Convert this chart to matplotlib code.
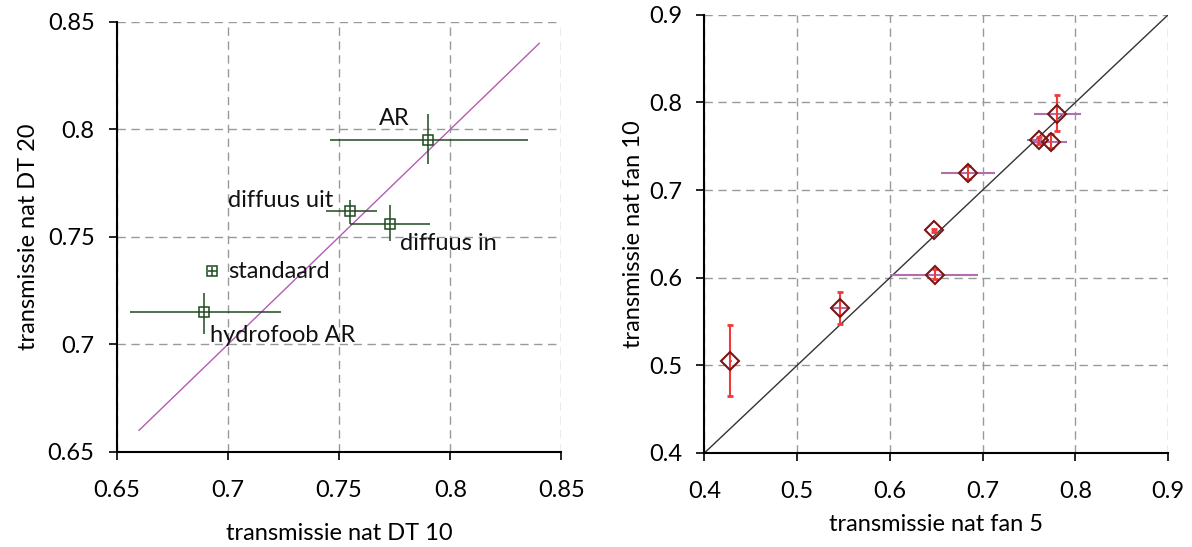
import matplotlib.pyplot as plt

plt.rcParams['font.family'] = ['Lato', 'DejaVu Sans']

# left panel: DT 10 vs DT 20
names = ['AR', 'diffuus uit', 'diffuus in', 'standaard', 'hydrofoob AR']
dt10 = [0.790, 0.755, 0.773, 0.693, 0.689]
dt20 = [0.795, 0.762, 0.756, 0.734, 0.715]
dt10_lo = [0.746, 0.744, 0.755, 0.691, 0.656]
dt10_hi = [0.835, 0.767, 0.791, 0.695, 0.724]
dt20_lo = [0.784, 0.756, 0.748, 0.732, 0.705]
dt20_hi = [0.807, 0.767, 0.765, 0.736, 0.724]
label_x = [0.768, 0.700, 0.7776, 0.700, 0.6917]
label_y = [0.805, 0.767, 0.747, 0.734, 0.704]
diag_left = [0.66, 0.84]

# right panel: fan 5 vs fan 10
fan5 = [0.428, 0.546, 0.648, 0.649, 0.684, 0.761, 0.774, 0.780]
fan10 = [0.505, 0.565, 0.654, 0.603, 0.720, 0.757, 0.755, 0.787]
fan5_lo = [0.426, 0.537, 0.645, 0.600, 0.655, 0.748, 0.754, 0.755]
fan5_hi = [0.430, 0.555, 0.651, 0.695, 0.713, 0.764, 0.791, 0.806]
fan10_lo = [0.465, 0.547, 0.652, 0.598, 0.713, 0.753, 0.748, 0.767]
fan10_hi = [0.546, 0.584, 0.656, 0.610, 0.727, 0.761, 0.764, 0.809]
diag_right = [0.4, 0.9]

fig = plt.figure(figsize=(11.92, 5.47), dpi=100)
ax1 = fig.add_axes([0.098, 0.174, 0.373, 0.786])
ax2 = fig.add_axes([0.591, 0.172, 0.389, 0.801])

green = '#1f4a1f'
ax1.plot(diag_left, diag_left, color='#b45cb4', lw=1, zorder=2)
xerr1 = [[x - lo for x, lo in zip(dt10, dt10_lo)], [hi - x for x, hi in zip(dt10, dt10_hi)]]
yerr1 = [[y - lo for y, lo in zip(dt20, dt20_lo)], [hi - y for y, hi in zip(dt20, dt20_hi)]]
ax1.errorbar(dt10, dt20, xerr=xerr1, yerr=yerr1, fmt='s', ms=7.5, mfc='none', mec=green,
             mew=1.1, ecolor=green, elinewidth=1.1, capsize=0, zorder=3)
for n, x, y in zip(names, label_x, label_y):
    ax1.text(x, y, n, fontsize=17, va='center', ha='left', color='#111111')

ax1.set_xlim(0.65, 0.85)
ax1.set_ylim(0.65, 0.85)
ax1.set_xticks([0.65, 0.7, 0.75, 0.8, 0.85])
ax1.set_xticklabels(['0.65', '0.7', '0.75', '0.8', '0.85'])
ax1.set_yticks([0.65, 0.7, 0.75, 0.8, 0.85])
ax1.set_yticklabels(['0.65', '0.7', '0.75', '0.8', '0.85'])
ax1.set_xlabel('transmissie nat DT 10', fontsize=17, labelpad=16)
ax1.set_ylabel('transmissie nat DT 20', fontsize=17, labelpad=6)

ax2.plot(diag_right, diag_right, color='#333333', lw=1, zorder=2)
xerr2 = [[x - lo for x, lo in zip(fan5, fan5_lo)], [hi - x for x, hi in zip(fan5, fan5_hi)]]
yerr2 = [[y - lo for y, lo in zip(fan10, fan10_lo)], [hi - y for y, hi in zip(fan10, fan10_hi)]]
ax2.errorbar(fan5, fan10, xerr=xerr2, fmt='none', ecolor='#b070b0', elinewidth=1.5, capsize=0, zorder=3)
ax2.errorbar(fan5, fan10, yerr=yerr2, fmt='none', ecolor='#f03a3a', elinewidth=1.5,
             capsize=2, capthick=2, zorder=4)
ax2.plot(fan5, fan10, 'D', ms=9, mfc='none', mec='#7a1515', mew=1.5, zorder=5)

ax2.set_xlim(0.4, 0.9)
ax2.set_ylim(0.4, 0.9)
ticks2 = [0.4, 0.5, 0.6, 0.7, 0.8, 0.9]
ax2.set_xticks(ticks2)
ax2.set_yticks(ticks2)
ax2.set_xlabel('transmissie nat fan 5', fontsize=17, labelpad=9)
ax2.set_ylabel('transmissie nat fan 10', fontsize=17, labelpad=4)

for ax in (ax1, ax2):
    for s in ('top', 'right'):
        ax.spines[s].set_visible(False)
    ax.spines['left'].set_linewidth(1.5)
    ax.spines['bottom'].set_linewidth(1.5)
    ax.grid(True, color='#999999', linestyle=(0, (6, 4)), lw=1)
    ax.set_axisbelow(True)
    ax.tick_params(direction='out', length=6, width=1.2, labelsize=17)
    ax.tick_params(axis='x', pad=14)
    ax.tick_params(axis='y', pad=10)

fig.savefig('out.png', dpi=100)
